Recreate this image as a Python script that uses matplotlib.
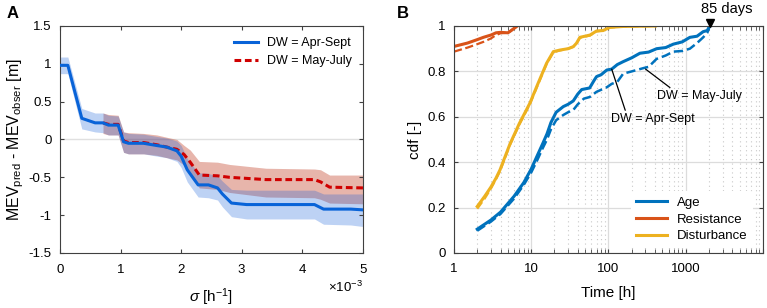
import numpy as np
import matplotlib
matplotlib.use("Agg")
import matplotlib.pyplot as plt
from matplotlib.ticker import LogLocator, NullFormatter, FixedLocator, FixedFormatter

plt.rcParams['font.family'] = ['Liberation Sans', 'DejaVu Sans']
plt.rcParams['axes.unicode_minus'] = False
plt.rcParams['mathtext.fontset'] = 'custom'
plt.rcParams['mathtext.rm'] = 'Liberation Sans'
plt.rcParams['mathtext.it'] = 'Liberation Sans:italic'

# ---- panel A data (sigma in 1/h) ----
sig_apr = np.array([0, 0.13, 0.36, 0.58, 0.71, 0.80, 0.96, 1.05, 1.13, 1.38, 1.60, 1.76, 1.93,
                    2.00, 2.10, 2.28, 2.45, 2.60, 2.68, 2.83, 3.08, 4.20, 4.35, 4.80, 5.00]) * 1e-3
mev_apr = [0.98, 0.98, 0.28, 0.22, 0.22, 0.19, 0.19, -0.03, -0.05, -0.05, -0.08, -0.10, -0.15,
           -0.22, -0.40, -0.60, -0.60, -0.64, -0.72, -0.84, -0.86, -0.86, -0.92, -0.92, -0.93]
apr_hi = [1.09, 1.09, 0.41, 0.35, 0.35, 0.32, 0.31, 0.10, 0.08, 0.07, 0.04, 0.02, -0.02,
          -0.08, -0.25, -0.44, -0.45, -0.48, -0.55, -0.66, -0.67, -0.67, -0.72, -0.72, -0.72]
apr_lo = [0.87, 0.87, 0.14, 0.10, 0.09, 0.06, 0.06, -0.17, -0.19, -0.19, -0.22, -0.24, -0.29,
          -0.37, -0.56, -0.76, -0.77, -0.80, -0.89, -1.02, -1.05, -1.05, -1.12, -1.13, -1.15]

sig_may = np.array([0.71, 0.80, 0.96, 1.05, 1.13, 1.38, 1.60, 1.76, 1.93, 2.05, 2.15, 2.30,
                    2.60, 2.80, 3.40, 4.20, 4.30, 4.45, 5.00]) * 1e-3
mev_may = [0.22, 0.20, 0.20, -0.02, -0.04, -0.04, -0.07, -0.10, -0.13, -0.20, -0.30, -0.47,
           -0.48, -0.50, -0.53, -0.53, -0.56, -0.63, -0.64]
may_hi = [0.35, 0.33, 0.32, 0.10, 0.09, 0.08, 0.06, 0.03, 0.00, -0.08, -0.14, -0.29,
          -0.30, -0.33, -0.38, -0.39, -0.40, -0.47, -0.47]
may_lo = [0.08, 0.06, 0.06, -0.17, -0.19, -0.19, -0.21, -0.24, -0.27, -0.34, -0.46, -0.64,
          -0.66, -0.70, -0.76, -0.77, -0.79, -0.84, -0.85]

# ---- panel B data (time in h, cdf) ----
t_age = [2, 3, 4, 6, 8, 10, 12, 14, 16, 18, 21, 26, 30, 35, 40, 45, 57, 65, 70, 80, 95, 110,
         130, 155, 200, 255, 330, 420, 550, 690, 900, 1130, 1400, 1680, 1900, 2040]
cdf_age = [0.105, 0.145, 0.18, 0.25, 0.31, 0.37, 0.43, 0.48, 0.525, 0.575, 0.62, 0.645, 0.655,
           0.67, 0.70, 0.72, 0.727, 0.76, 0.777, 0.785, 0.806, 0.81, 0.83, 0.843, 0.86, 0.88,
           0.885, 0.90, 0.905, 0.92, 0.93, 0.95, 0.955, 0.975, 0.98, 1.0]
t_age2 = [2, 3, 4, 6, 8, 10, 12, 14, 16, 18, 21, 26, 30, 35, 40, 48, 57, 70, 95, 110, 130, 155,
          200, 287, 330, 419, 550, 690, 900, 1130, 1400, 1680, 1900, 2040]
cdf_age2 = [0.098, 0.138, 0.172, 0.24, 0.30, 0.355, 0.41, 0.46, 0.50, 0.545, 0.585, 0.608, 0.62,
            0.63, 0.655, 0.68, 0.687, 0.71, 0.73, 0.745, 0.754, 0.79, 0.80, 0.815, 0.82, 0.855,
            0.87, 0.887, 0.89, 0.90, 0.925, 0.95, 0.97, 1.0]

t_res = [1, 1.5, 2, 2.4, 3, 3.5, 4, 5, 5.5, 6.6]
cdf_res = [0.91, 0.925, 0.94, 0.95, 0.96, 0.97, 0.972, 0.97, 0.98, 1.0]
cdf_res2 = [0.887, 0.905, 0.92, 0.93, 0.945, 0.96, 0.968, 0.97, 0.98, 1.0]

t_dist = [2, 2.5, 3, 3.5, 3.94, 5.3, 7, 9.6, 12, 15.8, 19.3, 23.5, 30, 35, 38.5, 42.6, 57.5,
          70, 85, 104, 155, 405]
cdf_dist = [0.205, 0.25, 0.29, 0.33, 0.366, 0.48, 0.57, 0.66, 0.74, 0.836, 0.887, 0.894, 0.90,
            0.909, 0.924, 0.95, 0.96, 0.978, 0.98, 0.994, 0.998, 1.0]
cdf_dist2 = [0.195, 0.24, 0.283, 0.325, 0.36, 0.475, 0.565, 0.655, 0.735, 0.832, 0.884, 0.892,
             0.90, 0.908, 0.922, 0.948, 0.958, 0.976, 0.98, 0.993, 0.998, 1.0]

t_mark = 2040   # 85 days

c_blue = '#0072BD'
c_red = '#D95319'
c_yel = '#EDB120'
axc = '#404040'

fig = plt.figure(figsize=(7.67, 3.08), dpi=100)
axA = fig.add_axes([0.0782, 0.1786, 0.395, 0.737])
axB = fig.add_axes([0.5919, 0.1786, 0.4029, 0.737])

for ax in (axA, axB):
    for s in ax.spines.values():
        s.set_color(axc)
        s.set_linewidth(0.8)
    ax.tick_params(direction='in', top=True, right=True, labelsize=9.5,
                   color=axc, length=3, which='both')
    ax.tick_params(axis='x', pad=7)
    ax.tick_params(axis='y', pad=6)

# ---- panel A ----
axA.axhline(0, color='#e0e0e0', lw=1, zorder=0)
axA.fill_between(sig_may, may_lo, may_hi, color=(0.72, 0.12, 0.0), alpha=0.33, lw=0)
axA.fill_between(sig_apr, apr_lo, apr_hi, color=(0.05, 0.35, 0.85), alpha=0.27, lw=0)
axA.plot(sig_may, mev_may, '--', color='#D00000', lw=2.2, dashes=(2.2, 1.2),
         label='DW = May-July', zorder=3)
axA.plot(sig_apr, mev_apr, '-', color='#0863D8', lw=2.2, label='DW = Apr-Sept', zorder=4)
axA.set_xlim(0, 5e-3)
axA.set_ylim(-1.5, 1.5)
axA.set_yticks([-1.5, -1, -0.5, 0, 0.5, 1, 1.5])
axA.set_yticklabels(['-1.5', '-1', '-0.5', '0', '0.5', '1', '1.5'])
axA.ticklabel_format(axis='x', style='sci', scilimits=(-3, -3), useMathText=True)
axA.xaxis.get_offset_text().set_fontsize(9.5)
axA.set_xlabel(r'$\it{\sigma}$ [h$^{-1}$]', fontsize=11, labelpad=8)
axA.set_ylabel(r'MEV$_{\mathrm{pred}}$ - MEV$_{\mathrm{obser}}$ [m]', fontsize=11.5, labelpad=2)
h, l = axA.get_legend_handles_labels()
axA.legend([h[1], h[0]], [l[1], l[0]], loc='upper right', frameon=False, fontsize=9,
           handlelength=1.9, handletextpad=0.7, borderaxespad=0.5,
           bbox_to_anchor=(1.0, 1.0), labelspacing=0.5)
fig.text(0.008, 0.955, 'A', fontsize=12, fontweight='bold', va='center')

# ---- panel B ----
axB.set_xscale('log')
axB.grid(True, which='major', color='#dcdcdc', lw=0.9)
axB.grid(True, which='minor', color='#c8c8c8', lw=0.8, ls=(0, (1, 3)))
axB.set_axisbelow(True)
axB.plot(t_res, cdf_res2, '--', color=c_red, lw=1.6)
axB.plot(t_dist, cdf_dist2, '--', color=c_yel, lw=1.6)
axB.plot(t_age2, cdf_age2, '--', color=c_blue, lw=1.8)
la, = axB.plot(t_age, cdf_age, '-', color=c_blue, lw=2.2, label='Age')
lr, = axB.plot(t_res, cdf_res, '-', color=c_red, lw=2.2, label='Resistance')
ld, = axB.plot(t_dist, cdf_dist, '-', color=c_yel, lw=2.2, label='Disturbance')
axB.set_xlim(1, 10000)
axB.set_ylim(0, 1)
axB.xaxis.set_major_locator(FixedLocator([1, 10, 100, 1000, 10000]))
axB.xaxis.set_major_formatter(FixedFormatter(['1', '10', '100', '1000', '']))
axB.xaxis.set_minor_locator(LogLocator(base=10, subs=np.arange(2, 10), numticks=20))
axB.xaxis.set_minor_formatter(NullFormatter())
axB.set_yticks([0, 0.2, 0.4, 0.6, 0.8, 1])
axB.set_yticklabels(['0', '0.2', '0.4', '0.6', '0.8', '1'])
axB.set_xlabel('Time [h]', fontsize=11, labelpad=8)
axB.set_ylabel('cdf [-]', fontsize=11, labelpad=4)
leg = axB.legend(handles=[la, lr, ld], loc='lower right', fontsize=9.5, frameon=True,
                 edgecolor='none', facecolor='white', framealpha=1, handlelength=2.3,
                 handletextpad=0.8, borderaxespad=0.4, labelspacing=0.35,
                 bbox_to_anchor=(0.985, 0.0))

axB.plot([t_mark], [1.012], marker='v', color='black', ms=6, clip_on=False, zorder=6)
axB.text(3400, 1.045, '85 days', ha='center', va='bottom', fontsize=10.5, clip_on=False)

axB.annotate('DW = Apr-Sept', xy=(110, 0.81), xytext=(108, 0.59), fontsize=9,
             ha='left', va='center',
             arrowprops=dict(arrowstyle='-', color='black', lw=0.9, shrinkA=0, shrinkB=0,
                             relpos=(0.18, 1.0)))
axB.annotate('DW = May-July', xy=(302, 0.81), xytext=(420, 0.69), fontsize=9,
             ha='left', va='center',
             arrowprops=dict(arrowstyle='-', color='black', lw=0.9, shrinkA=0, shrinkB=0,
                             relpos=(0.2, 1.0)))
fig.text(0.517, 0.955, 'B', fontsize=12, fontweight='bold', va='center')

fig.savefig('out.png', dpi=100)
